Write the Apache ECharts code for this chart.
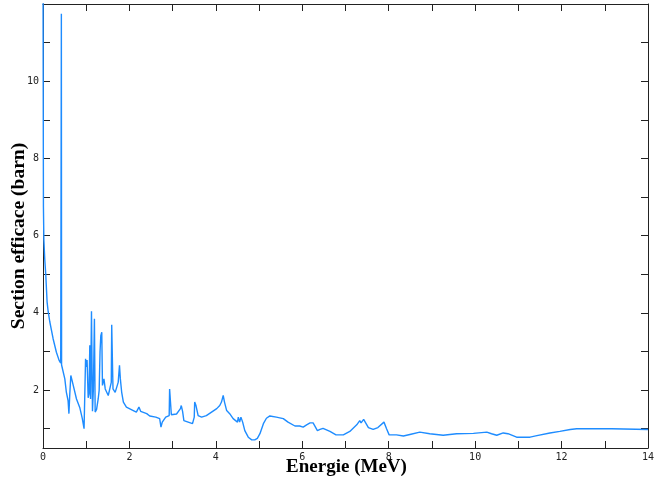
<!DOCTYPE html>
<html>
<head>
<meta charset="utf-8">
<script src="https://cdn.jsdelivr.net/npm/echarts@6/dist/echarts.min.js"></script>
<style>
html,body{margin:0;padding:0;background:#fff;}
#chart{width:656px;height:481px;}
</style>
</head>
<body>
<div id="chart"></div>
<script>
// Energy (MeV)
const energy = [0, 0.01, 0.02, 0.04, 0.065, 0.095, 0.12, 0.157, 0.234, 0.31, 0.373, 0.41, 0.42, 0.425, 0.43, 0.45,
  0.505, 0.54, 0.58, 0.6, 0.62, 0.644, 0.67, 0.70, 0.775, 0.85, 0.91, 0.95, 0.967, 0.985, 1.0, 1.02, 1.045, 1.065,
  1.083, 1.1, 1.122, 1.145, 1.165, 1.19, 1.207, 1.24, 1.277, 1.30, 1.32, 1.338, 1.36, 1.376, 1.41, 1.44, 1.51,
  1.55, 1.58, 1.59, 1.61, 1.62, 1.67, 1.74, 1.77, 1.79, 1.82, 1.86, 1.93, 2.09, 2.16, 2.22, 2.26, 2.4, 2.47, 2.61,
  2.7, 2.73, 2.76, 2.84, 2.87, 2.92, 2.93, 2.96, 2.97, 3.09, 3.13, 3.18, 3.2, 3.23, 3.26, 3.36, 3.46, 3.5, 3.51,
  3.54, 3.55, 3.59, 3.67, 3.78, 3.9, 4.02, 4.09, 4.13, 4.17, 4.2, 4.25, 4.32, 4.4, 4.5, 4.52, 4.55, 4.58, 4.62,
  4.67, 4.75, 4.83, 4.9, 4.96, 5.02, 5.1, 5.17, 5.25, 5.4, 5.56, 5.67, 5.83, 5.94, 6.02, 6.1, 6.18, 6.25, 6.35,
  6.41, 6.48, 6.52, 6.64, 6.78, 6.95, 7.1, 7.26, 7.33, 7.36, 7.42, 7.53, 7.64, 7.75, 7.89, 7.95, 8.01, 8.18, 8.34,
  8.49, 8.72, 8.95, 9.26, 9.57, 9.96, 10.27, 10.38, 10.5, 10.65, 10.76, 10.96, 11.27, 11.43, 11.73, 11.96, 12.2,
  12.35, 13.16, 13.2, 14];
// Cross section (barn)
const sigma = [13, 6.75, 5.9, 5.4, 4.97, 4.28, 4.03, 3.77, 3.33, 2.98, 2.77, 2.7, 2.75, 11.75, 2.65, 2.6,
  2.29, 1.95, 1.73, 1.39, 1.9, 2.38, 2.36, 2.12, 1.77, 1.55, 1.26, 1.0, 0.95, 2.81, 2.6, 2.78, 1.8, 1.9,
  3.16, 1.77, 4.04, 1.45, 2.0, 3.85, 1.43, 1.5, 1.77, 2.0, 3.0, 3.41, 3.5, 2.12, 2.29, 2.03, 1.86,
  1.88, 2.2, 3.69, 2.55, 2.03, 1.94, 2.2, 2.64, 2.29, 1.95, 1.69, 1.56, 1.47, 1.43, 1.56, 1.45, 1.39, 1.33, 1.30,
  1.26, 1.04, 1.17, 1.30, 1.35, 1.34, 2.03, 2.02, 1.36, 1.38, 1.36, 1.52, 1.6, 1.45, 1.21, 1.17, 1.13, 1.3, 1.69,
  1.6, 1.56, 1.34, 1.30, 1.34, 1.43, 1.52, 1.6, 1.69, 1.86, 1.69, 1.47, 1.39, 1.26, 1.17, 1.30, 1.17, 1.30, 1.17,
  0.95, 0.78, 0.71, 0.71, 0.75, 0.87, 1.13, 1.27, 1.33, 1.30, 1.26, 1.17, 1.07, 1.07, 1.04, 1.1, 1.15, 1.15, 0.95,
  0.98, 1.01, 1.01, 0.93, 0.84, 0.84, 0.93, 1.1, 1.21, 1.15, 1.24, 1.03, 0.98, 1.03, 1.17, 1.0, 0.84, 0.84, 0.81,
  0.85, 0.91, 0.87, 0.83, 0.87, 0.88, 0.91, 0.87, 0.83, 0.89, 0.87, 0.78, 0.78, 0.82, 0.89, 0.93, 0.98,
  1.0, 1.0, 0.98, 0.98];

const xTicks = [0,1,2,3,4,5,6,7,8,9,10,11,12,13,14];
const xLabels = [0,2,4,6,8,10,12,14];
const yTicks = [1,2,3,4,5,6,7,8,9,10,11];
const yLabels = [2,4,6,8,10];

const axisColor = '#222';
const chart = echarts.init(document.getElementById('chart'));
const baseX = {
  type: 'value', min: 0, max: 14,
  axisLine: {show: true, onZero: false, lineStyle: {color: axisColor, width: 1}},
  splitLine: {show: false}
};
const baseY = {
  type: 'value', min: 0.5, max: 12,
  axisLine: {show: true, onZero: false, lineStyle: {color: axisColor, width: 1}},
  splitLine: {show: false}
};
chart.setOption({
  animation: false,
  backgroundColor: '#fff',
  grid: {left: 43, top: 4, width: 605, height: 444, containLabel: false, outerBoundsMode: 'none'},
  xAxis: [
    Object.assign({}, baseX, {
      position: 'bottom',
      name: 'Energie (MeV)', nameLocation: 'middle', nameGap: 10, nameMoveOverlap: false,
      nameTextStyle: {fontFamily: 'Liberation Serif', fontWeight: 'bold', fontSize: 19, color: '#000', verticalAlign: 'top', padding: [0, 0, 0, 2]},
      axisTick: {show: true, inside: true, length: 7, customValues: xTicks, lineStyle: {color: axisColor}},
      axisLabel: {show: true, customValues: xLabels, margin: 4, fontFamily: 'DejaVu Sans Mono', fontSize: 10, color: '#222'}
    }),
    Object.assign({}, baseX, {
      position: 'top',
      axisTick: {show: true, inside: true, length: 7, customValues: xTicks, lineStyle: {color: axisColor}},
      axisLabel: {show: false}
    })
  ],
  yAxis: [
    Object.assign({}, baseY, {
      position: 'left',
      name: 'Section efficace (barn)', nameLocation: 'middle', nameGap: 14, nameRotate: 90, nameMoveOverlap: false,
      nameTextStyle: {fontFamily: 'Liberation Serif', fontWeight: 'bold', fontSize: 19.5, color: '#000', padding: [0, 20, 0, 0]},
      axisTick: {show: true, inside: true, length: 7, customValues: yTicks, lineStyle: {color: axisColor}},
      axisLabel: {show: true, customValues: yLabels, margin: 4, fontFamily: 'DejaVu Sans Mono', fontSize: 10, color: '#222'}
    }),
    Object.assign({}, baseY, {
      position: 'right',
      axisTick: {show: true, inside: true, length: 7, customValues: yTicks, lineStyle: {color: axisColor}},
      axisLabel: {show: false}
    })
  ],
  series: [{
    type: 'line',
    xAxisIndex: 0, yAxisIndex: 0,
    data: energy.map((e, i) => [e, sigma[i]]),
    showSymbol: false,
    clip: true,
    lineStyle: {color: '#1e8cff', width: 1.4},
    z: 1
  }]
});
</script>
</body>
</html>
